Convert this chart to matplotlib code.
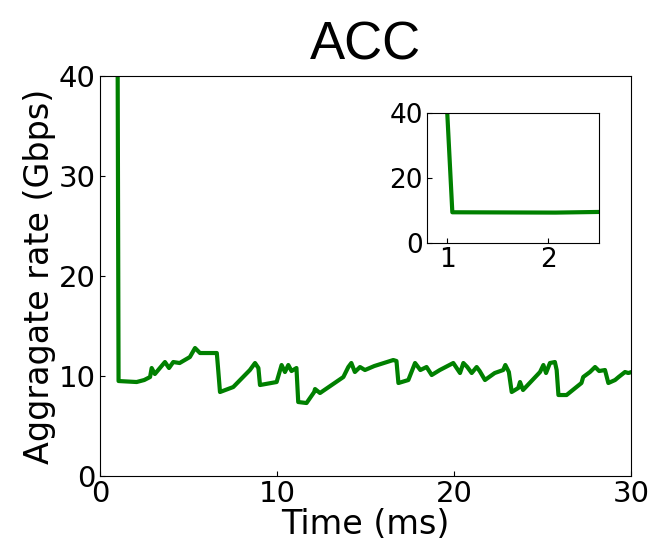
import matplotlib
matplotlib.use('Agg')
import matplotlib.pyplot as plt

# time (ms) and aggregate rate (Gbps)
time_ms = [0.98, 1.0, 1.05, 2.07, 2.5, 2.83, 2.92, 3.1, 3.67, 3.9, 4.14, 4.5, 5.08, 5.37,
           5.65, 6.2, 6.6, 6.68, 6.78, 7.53, 8.47, 8.76, 8.95, 9.04, 9.98, 10.26, 10.45,
           10.64, 10.82, 11.1, 11.2, 11.67, 12.1, 12.15, 12.43, 13.75, 14.03, 14.2, 14.4,
           14.69, 14.97, 15.5, 16.57, 16.75, 16.86, 17.42, 17.8, 18.1, 18.45, 18.74, 19.2,
           19.96, 20.34, 20.53, 20.75, 21.0, 21.28, 21.45, 21.75, 22.3, 22.78, 22.9, 23.1,
           23.26, 23.63, 23.73, 23.9, 24.86, 25.05, 25.2, 25.42, 25.7, 25.8, 25.9, 26.36,
           27.2, 27.3, 27.68, 27.97, 28.2, 28.53, 28.72, 29.1, 29.3, 29.66, 29.85, 30.03]
rate = [52, 40, 9.5, 9.4, 9.6, 9.9, 10.8, 10.2, 11.4, 10.8, 11.4, 11.3, 11.9, 12.8,
        12.3, 12.3, 12.3, 10.6, 8.4, 8.9, 10.6, 11.3, 10.8, 9.1, 9.4, 11.1, 10.4,
        11.1, 10.5, 10.8, 7.4, 7.3, 8.4, 8.7, 8.3, 9.9, 10.9, 11.3, 10.4,
        10.9, 10.6, 11.0, 11.6, 11.5, 9.3, 9.6, 11.3, 10.6, 10.9, 10.1, 10.6,
        11.3, 10.3, 11.3, 10.9, 10.3, 10.9, 10.5, 9.6, 10.3, 10.6, 11.1, 10.4,
        8.4, 8.8, 9.4, 8.6, 10.4, 11.1, 10.3, 11.3, 11.4, 10.6, 8.1, 8.1,
        9.3, 9.9, 10.4, 10.9, 10.5, 10.6, 9.3, 9.6, 9.9, 10.4, 10.3, 10.4]

fig = plt.figure(figsize=(6.56, 5.5), dpi=100)
ax = fig.add_axes([0.1524, 0.1345, 0.8095, 0.7273])
ax.plot(time_ms, rate, color='green', linewidth=3)
ax.set_xlim(0, 30)
ax.set_ylim(0, 40)
ax.set_xticks([0, 10, 20, 30])
ax.set_yticks([0, 10, 20, 30, 40])
ax.tick_params(direction='in', labelsize=21, pad=3)
ax.set_xlabel('Time (ms)', fontsize=24, labelpad=0)
ax.set_ylabel('Aggragate rate (Gbps)', fontsize=24, labelpad=2)
ax.set_title('ACC', fontsize=38, family='Liberation Sans', pad=12)

# zoomed inset around the start
ins = fig.add_axes([0.651, 0.558, 0.262, 0.236])
ins.plot(time_ms, rate, color='green', linewidth=3)
ins.set_xlim(0.8, 2.5)
ins.set_ylim(0, 40)
ins.set_xticks([1, 2])
ins.set_yticks([0, 20, 40])
ins.tick_params(direction='in', labelsize=19, pad=3)

fig.savefig('out.png', dpi=100)
